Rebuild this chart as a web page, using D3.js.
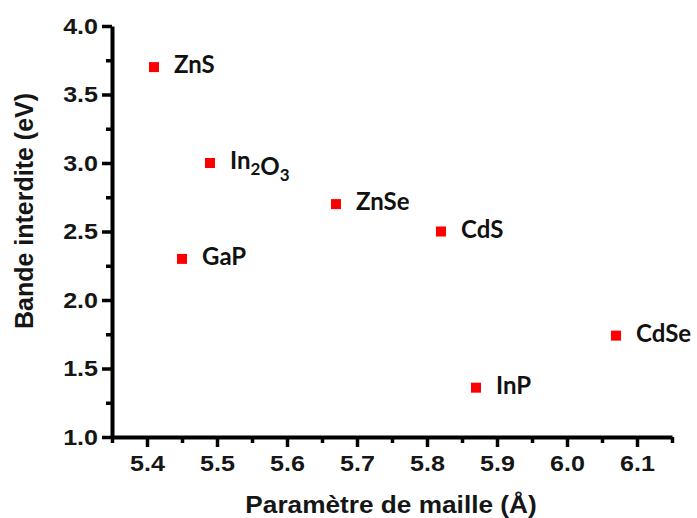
<!DOCTYPE html>
<head>
  <meta charset="utf-8">
  <script src="https://cdn.jsdelivr.net/npm/d3@7"></script>
  <style>
    body { margin: 0; background: #fff; }
  </style>
</head>
<body>
<div id="container"></div>
<script>
  // lattice parameter (A) and band gap (eV) for each material
  const materials = ['ZnS', 'In2O3', 'ZnSe', 'GaP', 'CdS', 'CdSe', 'InP'];
  const latticeParam = [5.41, 5.49, 5.67, 5.45, 5.82, 6.07, 5.87];
  const bandGap = [3.70, 3.00, 2.70, 2.30, 2.50, 1.74, 1.36];

  const xTicks = [5.4, 5.5, 5.6, 5.7, 5.8, 5.9, 6.0, 6.1];
  const yTicks = [1.0, 1.5, 2.0, 2.5, 3.0, 3.5, 4.0];

  const width = 697, height = 518;
  const margin = {top: 26, right: 25, bottom: 81, left: 112};

  // the original text looks a bit stretched horizontally
  const stretch = 1.14;

  const svg = d3.select('#container').append('svg')
    .attr('width', width)
    .attr('height', height);

  const xScale = d3.scaleLinear()
    .domain([5.35, 6.15])
    .range([margin.left, width - margin.right]);

  const yScale = d3.scaleLinear()
    .domain([1.0, 4.0])
    .range([height - margin.bottom, margin.top]);

  const axisFont = '"Liberation Sans", Arial, sans-serif';

  // minor ticks first, then major ones with labels
  svg.append('g')
    .attr('transform', `translate(0,${height - margin.bottom})`)
    .call(d3.axisBottom(xScale).tickValues(d3.range(5.35, 6.16, 0.1)).tickSize(6).tickFormat(''))
    .call(g => g.select('.domain').remove())
    .selectAll('line').attr('stroke-width', 3.5);

  svg.append('g')
    .attr('transform', `translate(${margin.left},0)`)
    .call(d3.axisLeft(yScale).tickValues(d3.range(1.25, 4, 0.5)).tickSize(6).tickFormat(''))
    .call(g => g.select('.domain').remove())
    .selectAll('line').attr('stroke-width', 3.5);

  const xAxis = svg.append('g')
    .attr('transform', `translate(0,${height - margin.bottom})`)
    .call(d3.axisBottom(xScale).tickValues(xTicks).tickSize(10).tickSizeOuter(0)
      .tickPadding(8).tickFormat(d3.format('.1f')));

  const yAxis = svg.append('g')
    .attr('transform', `translate(${margin.left},0)`)
    .call(d3.axisLeft(yScale).tickValues(yTicks).tickSize(10).tickSizeOuter(0)
      .tickPadding(4).tickFormat(d3.format('.1f')));

  [xAxis, yAxis].forEach(ax => {
    ax.select('.domain').attr('stroke-width', 4).attr('stroke', '#000');
    ax.selectAll('.tick line').attr('stroke-width', 3.5);
    ax.selectAll('.tick text')
      .style('font-family', axisFont)
      .style('font-size', '22px')
      .style('font-weight', 'bold')
      .attr('fill', '#161616')
      .attr('transform', function() {
        const x = +d3.select(this).attr('x') || 0;
        d3.select(this).attr('x', 0);
        return `translate(${x},0) scale(${stretch},1)`;
      });
  });

  // axis titles
  svg.append('text')
    .attr('transform', `translate(391,513) scale(${stretch},1)`)
    .attr('text-anchor', 'middle')
    .style('font-family', axisFont)
    .style('font-size', '23px')
    .style('font-weight', 'bold')
    .attr('fill', '#161616')
    .text('Paramètre de maille (Å)');

  svg.append('text')
    .attr('transform', 'translate(33,211) rotate(-90)')
    .attr('text-anchor', 'middle')
    .style('font-family', axisFont)
    .style('font-size', '25px')
    .style('font-weight', 'bold')
    .attr('fill', '#161616')
    .text('Bande interdite (eV)');

  // square markers
  const points = materials.map((m, i) => ({name: m, x: latticeParam[i], y: bandGap[i]}));
  const size = 10;

  svg.append('g').selectAll('rect')
    .data(points)
    .enter()
    .append('rect')
      .attr('x', d => xScale(d.x) - size / 2)
      .attr('y', d => yScale(d.y) - size / 2)
      .attr('width', size)
      .attr('height', size)
      .attr('fill', '#ff0000');

  // labels, digits in formulas drawn as subscripts
  const labels = svg.append('g').selectAll('text')
    .data(points)
    .enter()
    .append('text')
      .attr('x', d => xScale(d.x) + 20)
      .attr('y', d => yScale(d.y) + 6)
      .style('font-family', 'Lato, "Open Sans", sans-serif')
      .style('font-size', '24px')
      .style('font-weight', 'bold')
      .attr('fill', '#111');

  labels.each(function(d) {
    const t = d3.select(this);
    d.name.match(/[A-Za-z]+|\d+/g).forEach(part => {
      if (/\d/.test(part)) {
        t.append('tspan').attr('dy', 6).style('font-size', '17px').text(part);
        t.append('tspan').attr('dy', -6).text('');
      } else {
        t.append('tspan').text(part);
      }
    });
  });
</script>
</body>
